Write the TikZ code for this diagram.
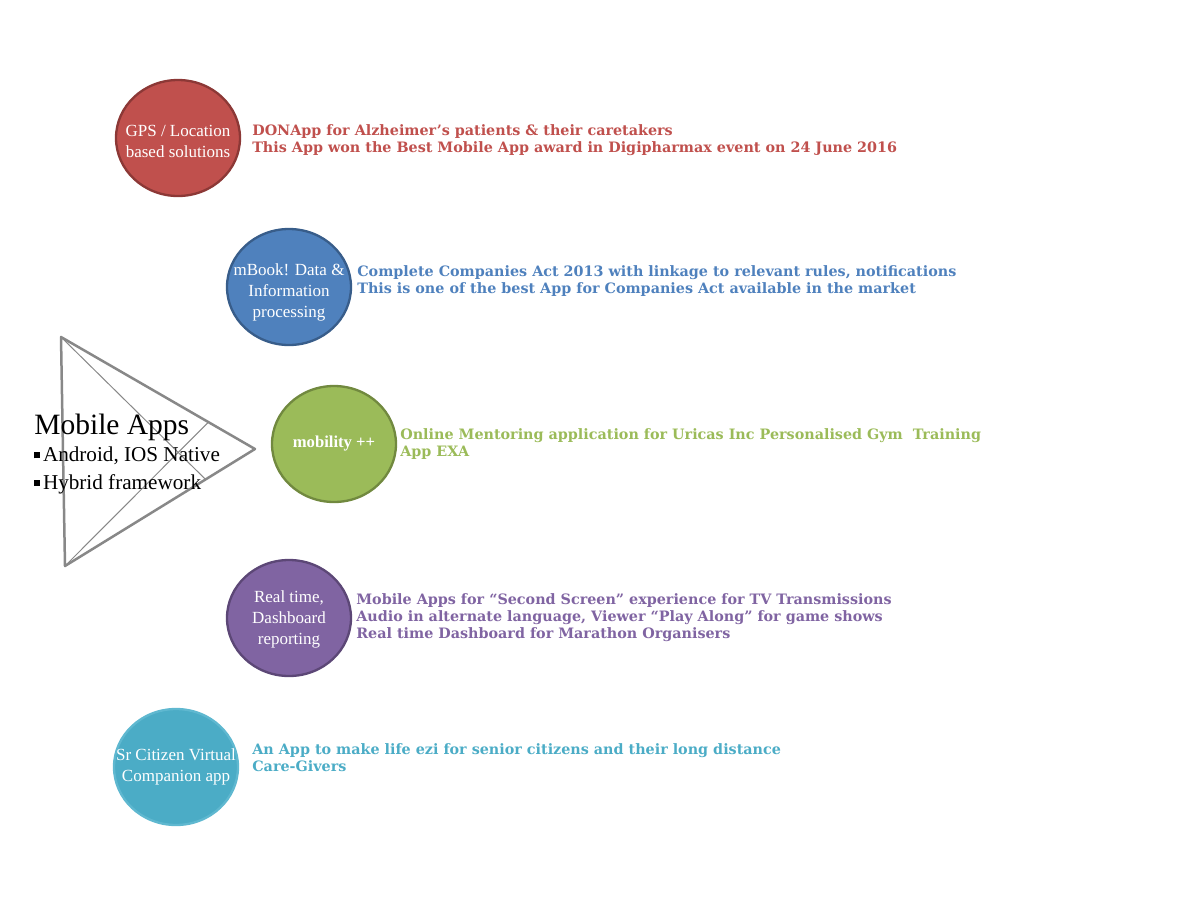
\documentclass[tikz,border=0pt]{standalone}
\usepackage{fontspec}
\setmainfont{Liberation Serif}
\newfontfamily\slabfont{DejaVu Serif}
\usepackage{tikz}
\usetikzlibrary{positioning,shapes.geometric,calc}

\definecolor{appred}{HTML}{C0504D}
\definecolor{appredline}{HTML}{8C3836}
\definecolor{appblue}{HTML}{4F81BD}
\definecolor{appblueline}{HTML}{385D8A}
\definecolor{appgreen}{HTML}{9BBB59}
\definecolor{appgreenline}{HTML}{71893F}
\definecolor{apppurple}{HTML}{8064A2}
\definecolor{apppurpleline}{HTML}{5C4776}
\definecolor{appteal}{HTML}{4BACC6}
\definecolor{apptealline}{HTML}{5FB8D0}
\definecolor{playgray}{HTML}{888888}

\newcommand{\sqbullet}{\raisebox{2.2pt}{\rule{3.6pt}{3.6pt}}\hspace{1.6pt}}

\begin{document}
\begin{tikzpicture}[
    x=0.6pt, y=-0.6pt,
    bubble/.style={ellipse, draw, line width=1.4pt, minimum width=74.4pt,
                minimum height=69.6pt, inner sep=0pt},
    bubbletext/.style={align=center, text=white, font=\fontsize{10.2}{12.6}\selectfont,
                inner sep=0pt},
    desc/.style={anchor=west, align=left, inner sep=0pt,
                font=\slabfont\bfseries\fontsize{8.6}{10.2}\selectfont},
  ]
  \useasboundingbox (0,0) rectangle (1200,900);

  % --- Play triangle on the left ---
  \coordinate (ptop) at (61,337);
  \coordinate (ptip) at (255,449);
  \coordinate (pbot) at (65,566);
  \draw[playgray, line width=1.5pt, line join=round] (ptop) -- (ptip) -- (pbot) -- cycle;
  \draw[playgray, line width=0.6pt] (ptop) -- ($(ptip)!0.26!(pbot)$);
  \draw[playgray, line width=0.6pt] (pbot) -- ($(ptip)!0.24!(ptop)$);

  \node[anchor=west, align=left, inner sep=0pt, font=\fontsize{12.7}{16.4}\selectfont]
    (mobile) at (34,454)
    {{\fontsize{17.7}{20}\selectfont Mobile Apps}\\
     \sqbullet Android, IOS Native\\
     \sqbullet Hybrid framework};

  % --- Bubbles ---
  \node[bubble, fill=appred, draw=appredline]       (gps)    at (178,138) {};
  \node[bubble, fill=appblue, draw=appblueline]     (mbook)  at (289,287) {};
  \node[bubble, fill=appgreen, draw=appgreenline]   (mob)    at (334,444) {};
  \node[bubble, fill=apppurple, draw=apppurpleline] (rtime)  at (289,618) {};
  \node[bubble, fill=appteal, draw=apptealline]     (sr)     at (176,767) {};

  \node[bubbletext] (gpstext)   at ([yshift=-2pt]gps.center)   {GPS / Location\\based solutions};
  \node[bubbletext] (mbooktext) at ([yshift=-3.5pt]mbook.center) {mBook! Data \&\\Information\\processing};
  \node[bubbletext, font=\bfseries\fontsize{10}{12.6}\selectfont] (mobtext) at (mob) {mobility ++};
  \node[bubbletext] (rtimetext) at ([yshift=-1pt]rtime.center) {Real time,\\Dashboard\\reporting};
  \node[bubbletext] (srtext)    at (sr)    {Sr Citizen Virtual\\Companion app};

  % --- Descriptions ---
  \node[desc, text=appred] (gpsdesc) at (252,140)
    {DONApp for Alzheimer’s patients \& their caretakers\\
     This App won the Best Mobile App award in Digipharmax event on 24 June 2016};
  \node[desc, text=appblue] (mbookdesc) at (357,281)
    {Complete Companies Act 2013 with linkage to relevant rules, notifications\\
     This is one of the best App for Companies Act available in the market};
  \node[desc, text=appgreen] (mobdesc) at (400,444)
    {Online Mentoring application for Uricas Inc Personalised Gym\ \ Training\\
     App EXA};
  \node[desc, text=apppurple] (rtimedesc) at (356,618)
    {Mobile Apps for “Second Screen” experience for TV Transmissions\\
     Audio in alternate language, Viewer “Play Along” for game shows\\
     Real time Dashboard for Marathon Organisers};
  \node[desc, text=appteal] (srdesc) at (252,758)
    {An App to make life ezi for senior citizens and their long distance\\
     Care-Givers};
\end{tikzpicture}
\end{document}
